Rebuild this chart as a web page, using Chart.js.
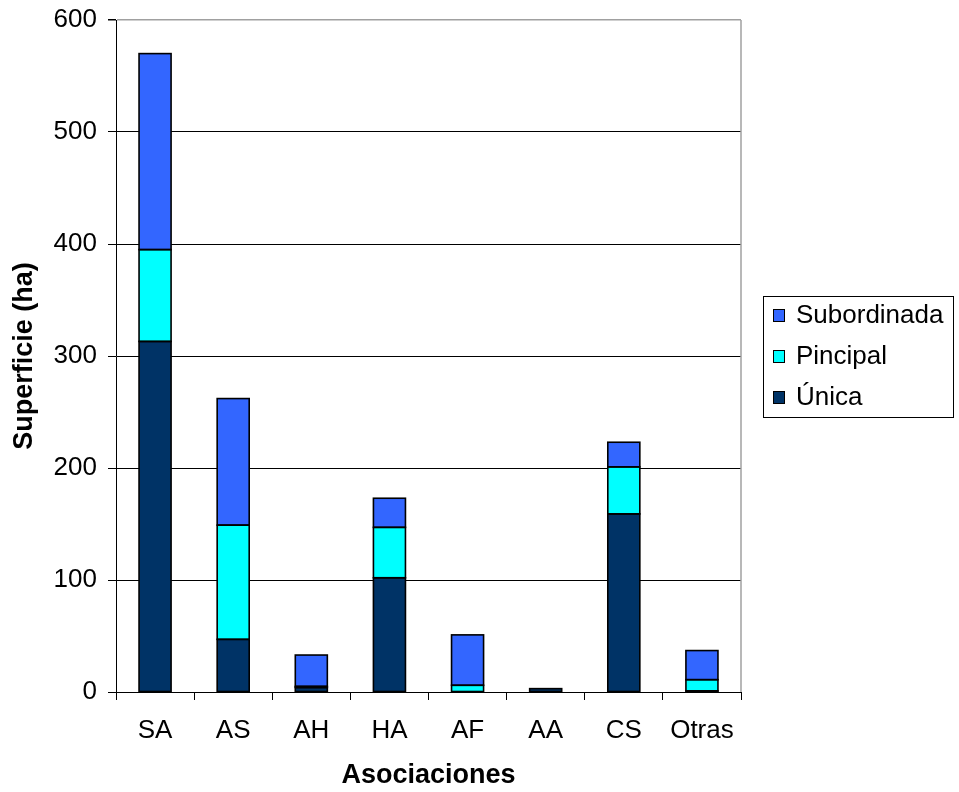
<!DOCTYPE html>
<html>
<head>
<meta charset="utf-8">
<script src="https://cdn.jsdelivr.net/npm/chart.js@4/dist/chart.umd.min.js"></script>
<style>
  html, body { margin: 0; padding: 0; background: #fff; }
  #wrap { width: 959px; height: 792px; position: relative; }
</style>
</head>
<body>
<div id="wrap"><canvas id="chart"></canvas></div>
<script>
// Superficie por asociación (ha)
const categories = ['SA', 'AS', 'AH', 'HA', 'AF', 'AA', 'CS', 'Otras'];
const unica = [313, 47, 4, 102, 0, 3, 159, 1];
const principal = [82, 102, 1, 45, 6, 0, 42, 10];
const subordinada = [175, 113, 28, 26, 45, 0, 22, 26];
const yTicks = [0, 100, 200, 300, 400, 500, 600];

const FONT = "'Liberation Sans', Arial, sans-serif";

// right frame line, black bar outlines and the boxed legend (Excel look)
const excelLook = {
    id: 'excelLook',
    beforeDatasetsDraw(chart) {
        const { ctx, chartArea: a } = chart;
        ctx.save();
        ctx.strokeStyle = '#a0a0a0';
        ctx.lineWidth = 1.5;
        ctx.beginPath();
        ctx.moveTo(a.right, a.top);
        ctx.lineTo(a.right, a.bottom);
        ctx.stroke();
        ctx.restore();
    },
    afterDatasetsDraw(chart) {
        const ctx = chart.ctx;
        ctx.save();
        ctx.strokeStyle = '#000';
        ctx.lineWidth = 1.6;
        chart.data.datasets.forEach((ds, i) => {
            chart.getDatasetMeta(i).data.forEach((bar, j) => {
                if (!ds.data[j]) return;
                const { x, y, base, width } = bar.getProps(['x', 'y', 'base', 'width'], true);
                ctx.strokeRect(x - width / 2, Math.min(y, base), width, Math.abs(base - y));
            });
        });
        ctx.restore();
    },
    afterDraw(chart) {
        const ctx = chart.ctx;
        const items = chart.data.datasets.slice().reverse();
        ctx.save();
        ctx.strokeStyle = '#000';
        ctx.lineWidth = 1;
        ctx.strokeRect(763.5, 296.5, 190, 121);
        ctx.font = '26px ' + FONT;
        ctx.textBaseline = 'middle';
        items.forEach((ds, i) => {
            const y = 315 + i * 41;
            ctx.fillStyle = ds.backgroundColor;
            ctx.fillRect(773, y - 6, 11, 12);
            ctx.strokeRect(773.5, y - 5.5, 11, 12);
            ctx.fillStyle = '#000';
            ctx.fillText(ds.label, 796, y + 1);
        });
        ctx.restore();
    }
};

const barStyle = {
    borderWidth: 0,
    categoryPercentage: 1,
    barPercentage: 0.41
};

new Chart(document.getElementById('chart'), {
    type: 'bar',
    data: {
        labels: categories,
        datasets: [
            { label: 'Única', data: unica, backgroundColor: '#003366', ...barStyle },
            { label: 'Pincipal', data: principal, backgroundColor: '#00FFFF', ...barStyle },
            { label: 'Subordinada', data: subordinada, backgroundColor: '#3366FF', ...barStyle }
        ]
    },
    options: {
        responsive: true,
        maintainAspectRatio: false,
        animation: false,
        layout: { padding: { top: 20, right: 218, left: 0, bottom: 0 } },
        plugins: {
            legend: { display: false },
            tooltip: { enabled: false }
        },
        scales: {
            x: {
                stacked: true,
                afterFit: (s) => { s.height = 100; },
                grid: { display: true, drawOnChartArea: false, drawTicks: true, tickLength: 8, offset: true, color: '#000' },
                border: { color: '#000', width: 1 },
                ticks: { color: '#000', padding: 15, font: { family: FONT, size: 26 } },
                title: {
                    display: true,
                    text: 'Asociaciones',
                    color: '#000',
                    padding: { top: 0, bottom: 0 },
                    font: { family: FONT, size: 27, weight: 'bold' }
                }
            },
            y: {
                stacked: true,
                min: 0,
                max: 600,
                afterFit: (s) => { s.width = 116; s.paddingTop = 0; s.paddingBottom = 0; },
                afterBuildTicks: (s) => { s.ticks = yTicks.map(v => ({ value: v })); },
                grid: {
                    color: (c) => c.tick && c.tick.value === 600 ? '#a0a0a0' : '#000',
                    lineWidth: (c) => c.tick && c.tick.value === 600 ? 1.5 : 1,
                    tickColor: '#000',
                    tickLength: 8
                },
                border: { color: '#000', width: 1 },
                ticks: { color: '#000', padding: 11, font: { family: FONT, size: 26 } },
                title: {
                    display: true,
                    text: 'Superficie (ha)',
                    color: '#000',
                    padding: { top: 8, bottom: 0 },
                    font: { family: FONT, size: 27, weight: 'bold' }
                }
            }
        }
    },
    plugins: [excelLook]
});
</script>
</body>
</html>
